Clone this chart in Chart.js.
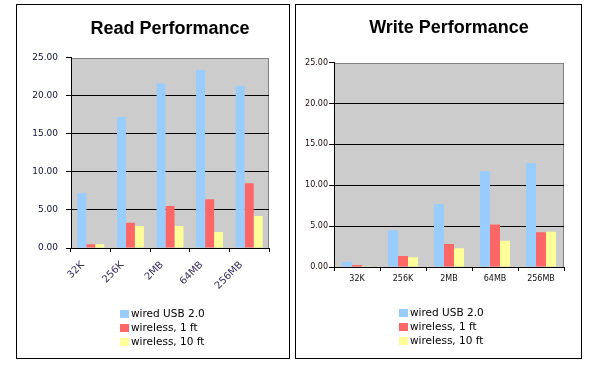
<!DOCTYPE html>
<html>
<head>
<meta charset="utf-8">
<script src="https://cdn.jsdelivr.net/npm/chart.js@4.4.1/dist/chart.umd.min.js"></script>
<style>
	body { margin: 0; width: 600px; height: 367px; background: #fff; position: relative; overflow: hidden; font-family: "DejaVu Sans", Verdana, sans-serif; }
	.box { position: absolute; top: 4px; height: 353px; border: 1px solid #000; background: #fff; }
	.box canvas { position: absolute; left: 0; top: 0; }
	.legend { position: absolute; font-size: 10.5px; line-height: 14px; color: #000; white-space: nowrap; }
	.legend .sw { display: inline-block; width: 9px; height: 8px; margin-right: 2px; vertical-align: -1px; }
</style>
</head>
<body>

<div class="box" style="left:16px; width:272px;">
	<canvas id="readChart" width="272" height="353"></canvas>
	<div class="legend" id="readLegend" style="left:103px; top:301px;"></div>
</div>
<div class="box" style="left:295px; width:285px;">
	<canvas id="writeChart" width="285" height="353"></canvas>
	<div class="legend" id="writeLegend" style="left:103px; top:300px;"></div>
</div>

<script>
// data (MB/s)
const categories = ['32K', '256K', '2MB', '64MB', '256MB'];
const seriesNames = ['wired USB 2.0', 'wireless, 1 ft', 'wireless, 10 ft'];
const seriesColors = ['#99ccff', '#ff6666', '#ffff99'];
const yTicks = [0, 5, 10, 15, 20, 25];

const readWired = [7.2, 17.2, 21.6, 23.4, 21.3];
const readWireless1 = [0.5, 3.3, 5.5, 6.4, 8.5];
const readWireless10 = [0.5, 2.9, 2.9, 2.1, 4.2];

const writeWired = [0.65, 4.5, 7.7, 11.7, 12.7];
const writeWireless1 = [0.25, 1.35, 2.8, 5.2, 4.25];
const writeWireless10 = [0.1, 1.2, 2.3, 3.2, 4.3];


/*
 * grey plot area with a grey frame, like the old excel charts
 */
const plotBackground = {
	id: 'plotBackground',
	beforeDraw(chart) {
		const { ctx, chartArea } = chart;
		const l = Math.round(chartArea.left), t = Math.round(chartArea.top);
		const r = Math.round(chartArea.right), b = Math.round(chartArea.bottom);
		ctx.save();
		ctx.fillStyle = '#cccccc';
		ctx.fillRect(l, t, r - l, b - t);
		ctx.strokeStyle = '#808080';
		ctx.lineWidth = 1;
		ctx.strokeRect(l + 0.5, t + 0.5, r - l - 1, b - t);
		ctx.restore();
	}
};

function makeDatasets(values) {
	return values.map((data, i) => ({
		label: seriesNames[i],
		data: data,
		backgroundColor: seriesColors[i],
		borderWidth: 0,
		barPercentage: 1.0
	}));
}

function makeLegend(id) {
	const el = document.getElementById(id);
	seriesNames.forEach((name, i) => {
		const row = document.createElement('div');
		row.innerHTML = '<span class="sw" style="background:' + seriesColors[i] + '"></span>' + name;
		el.appendChild(row);
	});
}

function makeChart(id, opts) {
	return new Chart(document.getElementById(id), {
		type: 'bar',
		data: {
			labels: categories,
			datasets: makeDatasets(opts.values)
		},
		plugins: [plotBackground],
		options: {
			responsive: false,
			animation: false,
			layout: { padding: { left: 0, right: opts.padRight, top: 0, bottom: 0 } },
			datasets: { bar: { categoryPercentage: opts.catPct } },
			plugins: {
				legend: { display: false },
				tooltip: { enabled: false },
				title: {
					display: true,
					text: opts.title,
					fullSize: false,
					color: '#000',
					font: { family: '"Liberation Sans", Arial, sans-serif', size: 18, weight: 'bold' },
					padding: { top: opts.titleTop, bottom: opts.titleBottom }
				}
			},
			scales: {
				x: {
					grid: { offset: true, drawOnChartArea: false, drawTicks: true, tickLength: 4, color: '#000' },
					border: { color: '#000' },
					ticks: {
						color: opts.xColor,
						font: { family: '"DejaVu Sans", sans-serif', size: opts.xSize },
						minRotation: opts.rotation,
						maxRotation: opts.rotation,
						padding: opts.xPad,
						labelOffset: opts.labelOffset
					},
					afterFit: scale => { scale.height = opts.xHeight; }
				},
				y: {
					min: 0,
					max: 25,
					afterBuildTicks: scale => { scale.ticks = yTicks.map(v => ({ value: v })); },
					grid: {
						color: ctx => (ctx.tick && ctx.tick.value === 25) ? 'rgba(0,0,0,0)' : '#000',
						tickColor: '#000',
						tickLength: 5
					},
					border: { color: '#000' },
					ticks: {
						color: opts.yColor,
						font: { family: '"DejaVu Sans", sans-serif', size: opts.ySize },
						padding: opts.yPad,
						callback: v => Number(v).toFixed(2)
					},
					afterFit: scale => { scale.width = opts.yWidth; }
				}
			}
		}
	});
}

makeChart('readChart', {
	title: 'Read Performance',
	values: [readWired, readWireless1, readWireless10],
	padRight: 20,
	titleTop: 13,
	titleBottom: 18,
	catPct: 0.68,
	yWidth: 54,
	ySize: 9,
	yPad: 8,
	yColor: '#10103a',
	xHeight: 110,
	xSize: 10,
	xColor: '#3a3060',
	xPad: 7,
	rotation: 45,
	labelOffset: -8
});

makeChart('writeChart', {
	title: 'Write Performance',
	values: [writeWired, writeWireless1, writeWireless10],
	padRight: 17,
	titleTop: 12,
	titleBottom: 24,
	catPct: 0.65,
	yWidth: 38,
	ySize: 8,
	yPad: 1,
	yColor: '#1a0a0a',
	xHeight: 91,
	xSize: 8,
	xColor: '#111',
	xPad: 3,
	rotation: 0,
	labelOffset: 0
});

makeLegend('readLegend');
makeLegend('writeLegend');
</script>
</body>
</html>
